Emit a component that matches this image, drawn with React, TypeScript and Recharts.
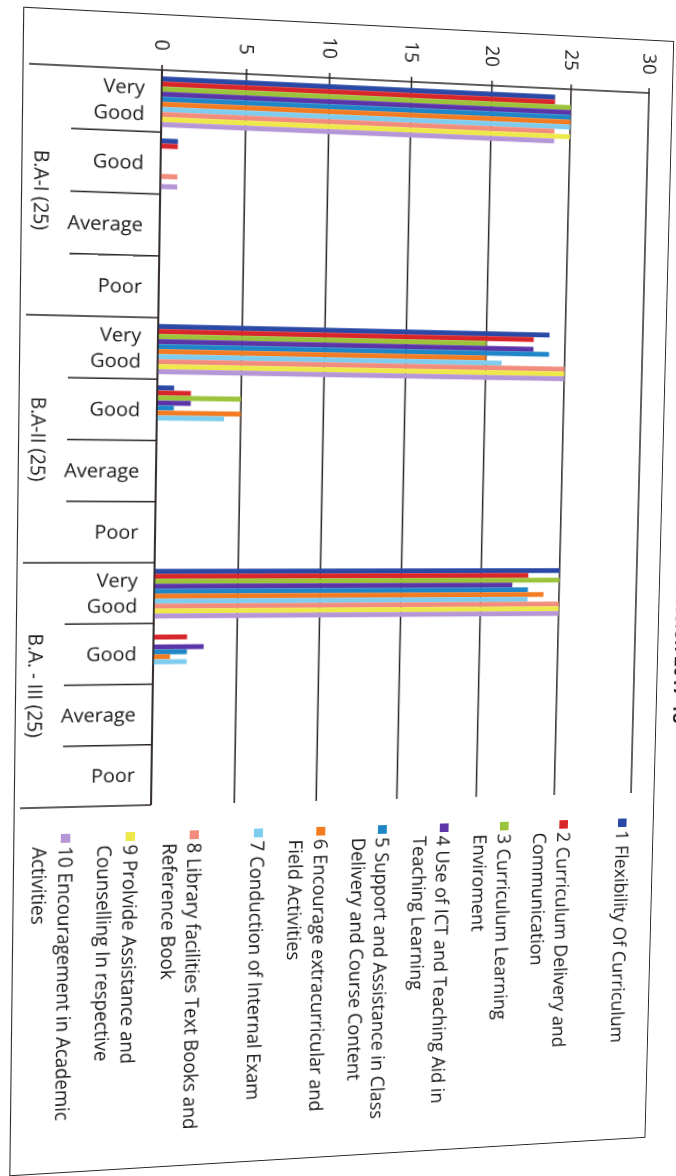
import React from 'react';
import { BarChart, Bar, XAxis, YAxis, CartesianGrid, Legend } from 'recharts';

const GROUPS = ['B.A-I (25)', 'B.A-II (25)', 'B.A. - III (25)'];
const RATINGS = ['Very Good', 'Good', 'Average', 'Poor'];
const VALUE_TICKS = [0, 5, 10, 15, 20, 25, 30];
const TITLE = 'Session 2017-18';

const SERIES_NAMES = [
  '1 Flexibility Of Curriculum',
  '2 Curriculum Delivery and\nCommunication',
  '3 Curriculum Learning\nEnviroment',
  '4 Use of ICT and Teaching Aid in\nTeaching Learning',
  '5 Support and Assistance in Class\nDelivery and Course Content',
  '6 Encourage extracurricular and\nField Activities',
  '7 Conduction of Internal Exam',
  '8 Library facilities Text Books and\nReference Book',
  '9 Prolvide Assistance and\nCounselling In respective',
  '10 Encouragement in Academic\nActivities',
];

const SERIES_COLORS = [
  '#2a48a6', '#d8262a', '#9cc43a', '#5b34a8', '#1f86c8',
  '#f37c22', '#7fcdee', '#f28c7c', '#eee84a', '#b596d6',
];

// order: B.A-I (VG, G, A, P), B.A-II (VG, G, A, P), B.A.-III (VG, G, A, P)
const S1 = [24, 1, 0, 0, 24, 1, 0, 0, 25, 0, 0, 0];
const S2 = [24, 1, 0, 0, 23, 2, 0, 0, 23, 2, 0, 0];
const S3 = [25, 0, 0, 0, 20, 5, 0, 0, 25, 0, 0, 0];
const S4 = [25, 0, 0, 0, 23, 2, 0, 0, 22, 3, 0, 0];
const S5 = [25, 0, 0, 0, 24, 1, 0, 0, 23, 2, 0, 0];
const S6 = [25, 0, 0, 0, 20, 5, 0, 0, 24, 1, 0, 0];
const S7 = [25, 0, 0, 0, 21, 4, 0, 0, 23, 2, 0, 0];
const S8 = [24, 1, 0, 0, 25, 0, 0, 0, 25, 0, 0, 0];
const S9 = [25, 0, 0, 0, 25, 0, 0, 0, 25, 0, 0, 0];
const S10 = [24, 1, 0, 0, 25, 0, 0, 0, 25, 0, 0, 0];
const SERIES_VALUES = [S1, S2, S3, S4, S5, S6, S7, S8, S9, S10];

const ROWS = GROUPS.flatMap((g, gi) =>
  RATINGS.map((r, ri) => {
    const idx = gi * RATINGS.length + ri;
    const row: any = { key: `${g}|${r}` };
    SERIES_VALUES.forEach((vals, si) => {
      row[`s${si + 1}`] = vals[idx];
    });
    return row;
  })
);

const FONT = "'Open Sans', sans-serif";
const TEXT = '#1c1a1a';
const LINE = '#2b2424';

const CHART_W = 1200;
const CHART_H = 676;
const MARGIN = { top: 27, right: 395, bottom: 0, left: 0 };
const Y_AXIS_W = 70;
const X_AXIS_H = 162;
const PLOT_W = CHART_W - MARGIN.right - MARGIN.left - Y_AXIS_W;

const CategoryTick = (props: any) => {
  const { x, y, payload } = props;
  const value = String(payload?.value ?? '');
  const [group, rating] = value.split('|');
  const i = ROWS.findIndex((r) => r.key === value);
  const half =
    payload && typeof payload.offset === 'number' && payload.offset > 0
      ? payload.offset
      : PLOT_W / ROWS.length / 2;
  const left = x - half;
  const isGroupStart = i % RATINGS.length === 0;
  const isLast = i === ROWS.length - 1;
  const lines = (rating || '').split(' ');
  return (
    <g>
      <line x1={left} x2={left} y1={y} y2={y + (isGroupStart ? 125 : 85)} stroke={LINE} strokeWidth={1.5} />
      {isLast && (
        <line x1={x + half} x2={x + half} y1={y} y2={y + 125} stroke={LINE} strokeWidth={1.5} />
      )}
      <g transform={`translate(${x}, ${y + 16}) rotate(-90)`}>
        <text textAnchor="end" fontSize={19} fontFamily={FONT} fill={TEXT}>
          {lines.map((ln, k) => (
            <tspan key={k} x={0} y={lines.length === 1 ? 6.5 : k === 0 ? -6.3 : 19.4}>
              {ln}
            </tspan>
          ))}
        </text>
      </g>
      {isGroupStart && (
        <text x={x + 3 * half} y={y + 118.8} textAnchor="middle" fontSize={19} fontFamily={FONT} fill={TEXT}>
          {group}
        </text>
      )}
    </g>
  );
};

const seriesIndex = (e: any) => {
  const n = parseInt(String(e.dataKey || '').replace(/\D/g, ''), 10);
  return isNaN(n) ? SERIES_NAMES.indexOf(e.value) : n;
};

const renderLegend = (props: any) => {
  const payload = [...(props.payload || [])].sort((a: any, b: any) => seriesIndex(a) - seriesIndex(b));
  return (
    <div style={{ fontFamily: FONT, fontSize: 19, color: TEXT }}>
      {payload.map((e: any, i: number) => (
        <div key={i} style={{ height: 62.3, display: 'flex', alignItems: 'flex-start' }}>
          <span
            style={{
              display: 'inline-block',
              width: 9,
              height: 9,
              background: e.color,
              marginTop: 7.75,
              marginRight: 4,
              flex: 'none',
            }}
          />
          <span style={{ lineHeight: '24.5px', whiteSpace: 'pre-line' }}>{e.value}</span>
        </div>
      ))}
    </div>
  );
};

const PERSPECTIVE =
  'matrix3d(1.06701, 0.05683, 0, 0.00010325, -0.011582, 1.018037, 0, 0.000022407, 0, 0, 1, 0, -10.0448, -10.4691, 0, 0.981705)';

export default function App() {
  return (
    <div
      style={{
        position: 'fixed',
        left: 0,
        top: 0,
        width: 676,
        height: 1176,
        overflow: 'hidden',
        background: '#ffffff',
      }}
    >
      <div
        style={{
          position: 'absolute',
          left: 0,
          top: 0,
          width: 760,
          height: 1260,
          transformOrigin: '0 0',
          transform: PERSPECTIVE,
        }}
      >
        <div
          style={{
            position: 'absolute',
            left: 0,
            top: 0,
            width: CHART_W,
            height: CHART_H,
            transformOrigin: '0 0',
            transform: 'translate(676px, 0px) rotate(90deg)',
          }}
        >
          <div
            style={{
              position: 'absolute',
              left: 15,
              top: 2,
              width: 1162,
              height: 643,
              border: `1.5px solid ${LINE}`,
              boxSizing: 'border-box',
            }}
          />
          <div
            style={{
              position: 'absolute',
              left: 458,
              top: -33,
              width: 400,
              textAlign: 'center',
              fontFamily: FONT,
              fontWeight: 700,
              fontSize: 19,
              lineHeight: '20px',
              color: TEXT,
              whiteSpace: 'nowrap',
            }}
          >
            {TITLE}
          </div>
          <BarChart
            width={CHART_W}
            height={CHART_H}
            data={ROWS}
            margin={MARGIN}
            barCategoryGap="10%"
            barGap={0}
          >
            <CartesianGrid horizontal={true} vertical={false} stroke={LINE} strokeWidth={1.5} />
            <XAxis
              dataKey="key"
              type="category"
              interval={0}
              height={X_AXIS_H}
              tickLine={false}
              tickSize={0}
              tickMargin={0}
              axisLine={{ stroke: LINE, strokeWidth: 1.5 }}
              tick={(p: any) => <CategoryTick {...p} />}
            />
            <YAxis
              type="number"
              domain={[0, 30]}
              ticks={VALUE_TICKS}
              interval={0}
              width={Y_AXIS_W}
              tickSize={5}
              tickMargin={14}
              axisLine={{ stroke: LINE, strokeWidth: 1.5 }}
              tickLine={{ stroke: LINE, strokeWidth: 1.5 }}
              tick={{ fontSize: 19, fontFamily: FONT, fill: TEXT }}
            />
            <Legend
              content={renderLegend}
              layout="vertical"
              align="center"
              verticalAlign="middle"
              wrapperStyle={{ left: 831.5, top: 22.75, width: 345 }}
            />
            {SERIES_NAMES.map((n, i) => (
              <Bar
                key={i}
                dataKey={`s${i + 1}`}
                name={n}
                fill={SERIES_COLORS[i]}
                isAnimationActive={false}
              />
            ))}
          </BarChart>
        </div>
      </div>
    </div>
  );
}
